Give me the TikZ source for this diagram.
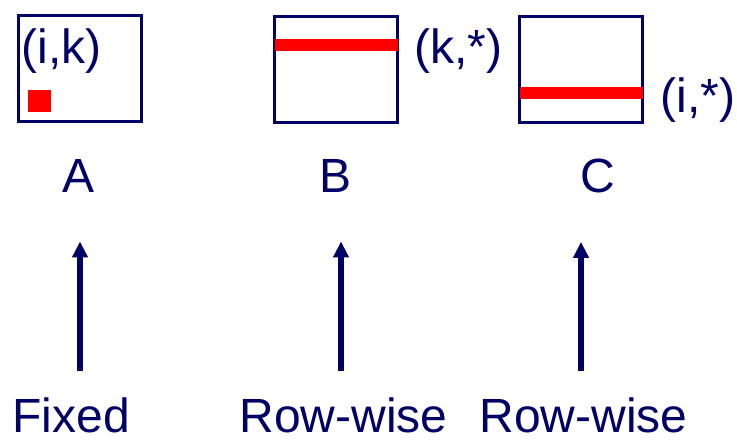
\documentclass[tikz,border=0pt]{standalone}
\usepackage{fontspec}
\setmainfont{Liberation Sans}
\usetikzlibrary{arrows.meta}
\definecolor{navy}{RGB}{0,0,102}
\definecolor{hot}{RGB}{255,0,0}
\tikzset{
  mat/.style={draw=navy, line width=1.5pt, minimum width=61.5pt,
              minimum height=53pt, inner sep=0pt},
  hl/.style={fill=hot, draw=none},
  txt/.style={text=navy, font=\fontsize{24}{28}\selectfont, inner sep=0pt},
  up/.style={-{Triangle[length=8pt,width=7.5pt]}, draw=navy, line width=2.6pt,
             shorten <=13pt, shorten >=24.5pt},
}
\begin{document}
\begin{tikzpicture}[x=0.5pt,y=-0.5pt]
    \useasboundingbox (0,0) rectangle (737,440);
    % the three matrices
    \node[mat] (matA) at (80,68.5) {};
    \node[mat] (matB) at (336,69) {};
    \node[mat] (matC) at (581,69) {};
    \fill[hl] (28,90) rectangle (51,112);
    \fill[hl] (274.5,39) rectangle (397.5,51);
    \fill[hl] (519.5,87) rectangle (642.5,99);
    \node[txt,anchor=base west] (ik) at (21,63) {(i,k)};
    \node[txt,anchor=base west] (kstar) at (414,63) {(k,*)};
    \node[txt,anchor=base west] (istar) at (660,112) {(i,*)};
    \node[txt,anchor=base] (lblA) at (79,192) {A};
    \node[txt,anchor=base] (lblB) at (336,192) {B};
    \node[txt,anchor=base] (lblC) at (598,192) {C};
    % access patterns
    \node[txt,anchor=base west] (fixed) at (12,432) {Fixed};
    \node[txt,anchor=base west] (rowB) at (239,432) {Row-wise};
    \node[txt,anchor=base west] (rowC) at (479,432) {Row-wise};
    \draw[up] (fixed.north -| matA.south) -- (lblA.south -| matA.south);
    \draw[up] ([xshift=2.5pt]rowB.north -| matB.south) -- ([xshift=2.5pt]lblB.south -| matB.south);
    \draw[up] (rowC.north -| matC.south) -- (lblC.south -| matC.south);
\end{tikzpicture}
\end{document}
